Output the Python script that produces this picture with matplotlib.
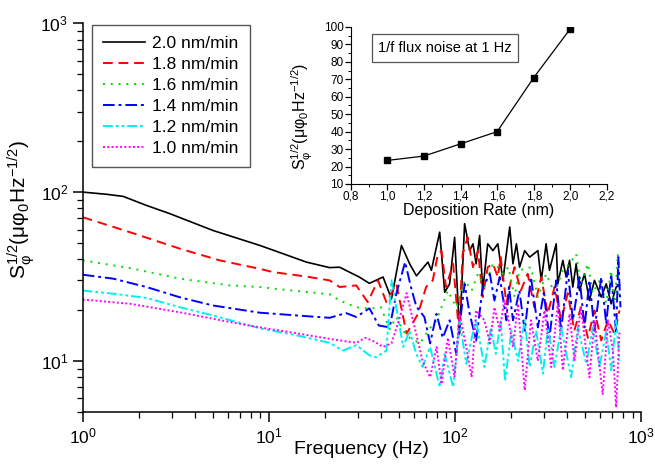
import matplotlib
matplotlib.use('Agg')
import matplotlib.pyplot as plt
from matplotlib.ticker import MultipleLocator, FixedLocator, FixedFormatter

plt.rcParams['font.family'] = ['Liberation Sans', 'DejaVu Sans']
plt.rcParams['mathtext.default'] = 'regular'

# ---- spectra ----
f_20 = [1, 1.35, 1.65, 2.2, 2.94, 5.0, 8.95, 10.6, 15.9, 21.2, 24, 30.6,
        34.7, 41.1, 45.6, 51.6, 57.1, 62.1, 71.6, 74.7, 82.8, 88.1,
        93.6, 99.6, 106, 112.7, 120, 125, 130, 135.7, 141, 150,
        160, 170, 181, 197, 205, 214, 222.5, 237, 252, 279,
        291, 309, 322, 350, 357, 380, 396, 413, 430, 448,
        467, 497, 528, 562, 611, 650, 691, 735, 766]
s_20 = [100, 97, 94.3, 83.4, 74.5, 59.3, 48.3, 45.2, 38.5, 35.7, 35.9, 31.4,
        28.8, 31.4, 23.3, 48.3, 37.6, 31.9, 38.5, 34.4, 57.9, 25.5,
        28.6, 54, 14.5, 65, 45, 49.4, 37.6, 55.4, 26.1, 49.4,
        45, 49.4, 30, 62.1, 37.6, 49.4, 35.9, 45, 41.2, 45,
        30, 49.4, 34.4, 49.4, 28.6, 39.4, 31.4, 39.4, 27.4, 37.6,
        26.1, 32.8, 22.8, 30, 23.9, 28.6, 21.8, 27.4, 28]

f_18 = [1, 1.79, 3.33, 5.45, 8.95, 10.5, 15.9, 21.2, 24, 29.5,
        34, 38.6, 42.8, 48.4, 55, 63.3, 70, 76, 81, 84.7,
        89.5, 97.8, 105, 110, 117, 125, 133, 141, 150, 160,
        170, 176, 189, 200, 209, 226, 246, 267, 291, 315,
        343, 372, 404, 438, 475, 518, 562, 611, 664, 720, 766]
s_18 = [71, 57.9, 46.2, 39.4, 35.1, 33.6, 31.6, 30, 27.4, 28,
        22.3, 30, 22.3, 28.6, 14.5, 19, 27.4, 30, 43, 45,
        27.4, 37.6, 15.1, 43, 54, 35.9, 45, 23.9, 35.9, 37.6,
        31.4, 41.2, 21.8, 30, 35.9, 26.1, 32.8, 20.8, 31.4, 19,
        27.4, 17.4, 25.2, 15.1, 20.8, 13.7, 19.9, 13.2, 17.4, 14.5, 19.9]

f_16 = [1, 1.79, 3.33, 6.17, 8.95, 10.6, 15.9, 21.2, 24, 29.5,
        34.7, 40, 44.6, 48.4, 52.7, 57, 65, 71.6, 79.6, 91.6,
        101.6, 113, 123, 133, 144, 160, 170, 181, 194, 209,
        222, 256, 279, 309, 343, 380, 413, 448, 475, 518,
        550, 600, 650, 691, 720, 750, 766]
s_16 = [39.4, 35.5, 30.7, 28, 27.4, 26.8, 25.6, 24.8, 22.8, 20.8,
        20.4, 20.8, 15.4, 18.2, 15.1, 13.7, 12.7, 15.1, 17.4, 26.1,
        20.8, 30, 26.1, 32.8, 27.4, 37.6, 35.9, 32.8, 36, 23.9,
        34.4, 35.9, 23.9, 32.8, 25.2, 34.4, 37.6, 43, 28.6, 37.6,
        25.2, 30, 22, 34.4, 20, 43, 22.8]

f_14 = [1, 1.46, 2.2, 3.33, 5.0, 8.95, 15, 21.2, 26, 29.5,
        34.7, 39, 44.6, 48.4, 54, 58, 62, 68.5, 73.6, 79.6,
        86, 93.6, 101.6, 112.7, 120, 130, 141, 154, 163, 174,
        189, 195, 205, 222, 237, 256, 279, 300, 322, 350,
        372, 404, 430, 467, 497, 528, 562, 611, 650, 691,
        735, 755, 775]
s_14 = [32.4, 30.7, 27.4, 23.8, 21.3, 19.3, 18.5, 18.0, 19.2, 18.2,
        20.5, 16.2, 15.8, 25, 38.5, 27.4, 21, 18.2, 12.7, 19,
        13.7, 17.4, 11, 28.6, 19, 13.2, 27.4, 32.8, 22.8, 31.4,
        17.4, 27.4, 17.4, 26.1, 15.1, 31.4, 15.8, 25.2, 13.7, 30,
        15.1, 34.4, 17.4, 31.4, 15.8, 30, 15.1, 31.4, 16.6, 32.8,
        14.5, 41.2, 20.8]

f_12 = [1, 1.46, 2.2, 3.33, 5.0, 8.95, 14, 21.2, 25, 29.5,
        34.7, 37.6, 42.8, 45.6, 48.4, 52.7, 57, 62, 67, 73.6,
        82.8, 88, 97.8, 106, 115, 123, 130, 144, 156, 166,
        176, 186, 201, 218, 237, 252, 273, 297, 316, 343,
        372, 421, 457, 508, 550, 598, 650, 691, 735, 766]
s_12 = [26.1, 25, 23.6, 20.8, 18.6, 15.6, 14.2, 12.8, 11.5, 12.4,
        10.8, 10.5, 11.5, 30, 20.8, 12.1, 15.1, 11, 9.2, 12.1,
        7, 11, 7, 17.4, 9.6, 13.7, 17.4, 9.2, 15.8, 11,
        17.4, 7.6, 15.1, 10, 17.4, 9.2, 15.1, 8.4, 15.8, 9.2,
        15.8, 8, 15.8, 9.6, 15.8, 9.2, 15.1, 8.8, 17.4, 10]

f_10 = [1, 1.79, 3.33, 6.17, 8.95, 14, 21.2, 29.5, 33, 37,
        41, 45.6, 50.6, 55, 59.5, 67, 73.6, 79.6, 84.7, 91.6,
        99.6, 106, 115, 123, 130, 144, 154, 163, 174, 184,
        193, 205, 218, 237, 256, 279, 303, 329, 357, 380,
        413, 439, 475, 528, 562, 622, 664, 706, 735, 766]
s_10 = [23.1, 21.8, 19.4, 17, 15.8, 14.6, 13.5, 12.8, 13.7, 13.0,
        12.1, 12.7, 18.2, 25.2, 17.4, 10, 8, 12.1, 7.3, 13.7,
        8, 19, 12.1, 8, 19.9, 17.4, 12.7, 20.8, 15.1, 22.8,
        18.2, 12.1, 21.8, 6.7, 17.4, 10, 19.9, 9.2, 21.8, 8.8,
        19, 10, 20.8, 8, 17.4, 6.3, 17.4, 11.5, 5.3, 15.1]

labels = ['2.0 nm/min', '1.8 nm/min', '1.6 nm/min',
          '1.4 nm/min', '1.2 nm/min', '1.0 nm/min']

# inset: noise at 1 Hz vs deposition rate
rate = [1.0, 1.2, 1.4, 1.6, 1.8, 2.0]
noise_1hz = [23.5, 26, 33, 40, 71, 99]
inset_xticks = [0.8, 1.0, 1.2, 1.4, 1.6, 1.8, 2.0, 2.2]
inset_xlabels = ['0,8', '1,0', '1,2', '1,4', '1,6', '1,8', '2,0', '2,2']

fig = plt.figure(figsize=(6.55, 4.66), dpi=100)
ax = fig.add_axes([0.1263, 0.1165, 0.8524, 0.8335])

series = [(f_20, s_20, 'black', '-'),
          (f_18, s_18, '#ff0000', (0, (5, 3))),
          (f_16, s_16, '#00dd00', (0, (1, 3))),
          (f_14, s_14, '#0000ff', (0, (6, 2, 1.5, 2))),
          (f_12, s_12, '#00f0f0', (0, (5, 1.5, 1.5, 1.5, 1.5, 1.5))),
          (f_10, s_10, '#ff00ff', (0, (1, 1.2)))]
for (fx, sy, col, ls), lab in zip(series, labels):
    ax.plot(fx, sy, color=col, linestyle=ls, lw=1.4 if col != 'black' else 1.2, label=lab)

ax.set_xscale('log')
ax.set_yscale('log')
ax.set_xlim(1, 1000)
ax.set_ylim(5, 1000)
ax.spines['top'].set_visible(False)
ax.spines['right'].set_visible(False)
for sp in ['left', 'bottom']:
    ax.spines[sp].set_linewidth(1.1)
ax.tick_params(which='both', direction='out')
ax.tick_params(which='major', length=7, width=1.1, labelsize=12.5)
ax.tick_params(which='minor', length=4, width=0.9)

ax.set_xlabel('Frequency (Hz)', fontsize=14)
ax.xaxis.set_label_coords(0.5, -0.075)
ax.set_ylabel(r'$S_\varphi^{1/2}(\mu\varphi_0Hz^{-1/2})$', fontsize=15)
ax.yaxis.set_label_coords(-0.082, 0.52)

leg = ax.legend(loc='upper left', bbox_to_anchor=(0.0167, 0.9956), borderaxespad=0,
                fontsize=12.5, fancybox=False, edgecolor='#555555', framealpha=1,
                handlelength=2.4, handletextpad=0.4, labelspacing=0.33, borderpad=0.65)
leg.get_frame().set_linewidth(1.0)

# inset
axi = fig.add_axes([0.5354, 0.6052, 0.3913, 0.3369])
axi.plot(rate, noise_1hz, color='black', lw=0.9, marker='s', ms=4.5)
axi.set_xlim(0.8, 2.2)
axi.set_ylim(10, 100)
axi.xaxis.set_major_locator(FixedLocator(inset_xticks))
axi.xaxis.set_major_formatter(FixedFormatter(inset_xlabels))
axi.xaxis.set_minor_locator(MultipleLocator(0.1))
axi.yaxis.set_major_locator(MultipleLocator(10))
axi.yaxis.set_minor_locator(MultipleLocator(5))
axi.spines['top'].set_visible(False)
axi.spines['right'].set_visible(False)
axi.tick_params(which='both', direction='out')
axi.tick_params(which='major', length=4, width=0.9, labelsize=8.5, pad=1)
axi.tick_params(which='minor', length=2, width=0.7)
axi.set_xlabel('Deposition Rate (nm)', fontsize=11.5)
axi.xaxis.set_label_coords(0.5, -0.12)
axi.set_ylabel(r'$S_\varphi^{1/2}(\mu\varphi_0Hz^{-1/2})$', fontsize=11.5)
axi.yaxis.set_label_coords(-0.14, 0.43)
axi.text(0.368, 0.866, '1/f flux noise at 1 Hz', transform=axi.transAxes,
         ha='center', va='center', fontsize=10.5,
         bbox=dict(boxstyle='square,pad=0.45', fc='white', ec='#555555', lw=0.9))

fig.savefig('out.png', dpi=100)
